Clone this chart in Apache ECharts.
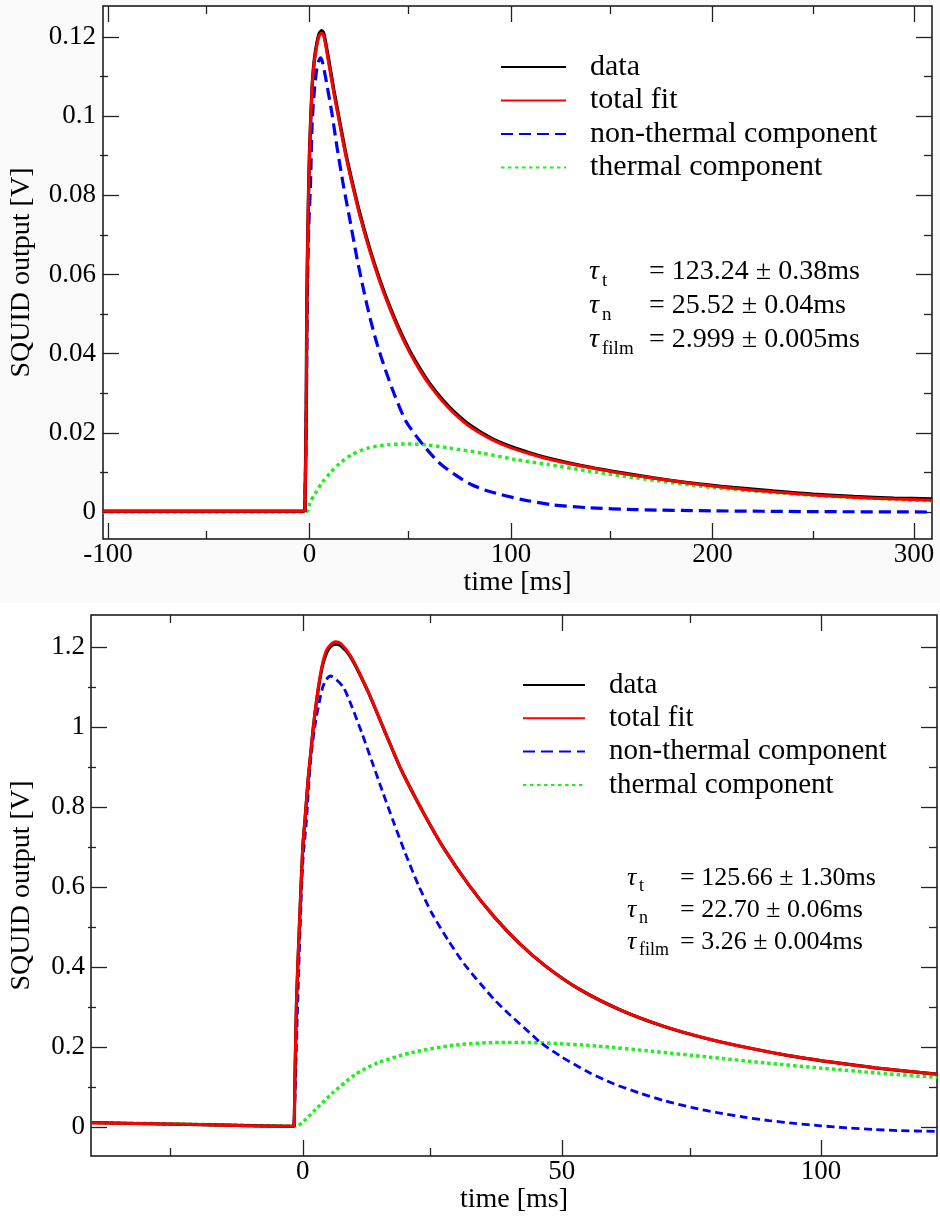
<!DOCTYPE html>
<html><head><meta charset="utf-8">
<script src="https://cdn.jsdelivr.net/npm/echarts@6/dist/echarts.min.js"></script>
<style>html,body{margin:0;padding:0;background:#fff}#c{width:940px;height:1221px}</style>
</head><body><div id="c"></div>
<script>
// ---------- names / ticks ----------
const seriesNames = ['data', 'total fit', 'non-thermal component', 'thermal component'];
const topTicksX = [-100, 0, 100, 200, 300];
const topMinorX = [-50, 50, 150, 250];
const topTicksY = [0, 0.02, 0.04, 0.06, 0.08, 0.1, 0.12];
const topMinorY = [0.01, 0.03, 0.05, 0.07, 0.09, 0.11];
const botTicksX = [0, 50, 100];
const botMinorX = [-25, 25, 75];
const botTicksY = [0, 0.2, 0.4, 0.6, 0.8, 1, 1.2];
const botMinorY = [0.1, 0.3, 0.5, 0.7, 0.9, 1.1];
const topFitText = ['= 123.24 \u00b1 0.38ms', '= 25.52 \u00b1 0.04ms', '= 2.999 \u00b1 0.005ms'];
const botFitText = ['= 125.66 \u00b1 1.30ms', '= 22.70 \u00b1 0.06ms', '= 3.26 \u00b1 0.004ms'];
const tauSubs = ['t', 'n', 'film'];

// ---------- top panel values [time ms, V] ----------
const topData = [[-102.5,0.0002],[-3,0.0002],[-2.3,0.0004],[-1.6,0.028],[-1.3,0.054],[-0.64,0.076],[0,0.0907],[1.3,0.1075],[2.3,0.1138],[3.5,0.118],[4.8,0.1208],[6,0.1216],[7,0.121],[8,0.1186],[10,0.1128],[12,0.1068],[15,0.0986],[18,0.0906],[21,0.0838],[25,0.0754],[30,0.0663],[35,0.0585],[40,0.0517],[45,0.0457],[50,0.0405],[55,0.0361],[60,0.0322],[66,0.0284],[72,0.0252],[80,0.0218],[90,0.0187],[100,0.0165],[110,0.0148],[120,0.0134],[135,0.0117],[150,0.0103],[170,0.0087],[190,0.0073],[210,0.0062],[230,0.0053],[250,0.0045],[270,0.0039],[290,0.0035],[308.9,0.0033]];
const topFit = [[-102.5,0.0002],[-3,0.0002],[-2.3,0.0004],[-1.6,0.028],[-1.3,0.054],[-0.64,0.076],[0,0.0907],[1.3,0.1075],[2.3,0.1135],[3.5,0.1175],[4.8,0.1203],[6,0.121],[7,0.1203],[8,0.118],[10,0.112],[12,0.106],[15,0.098],[18,0.090],[21,0.0832],[25,0.0748],[30,0.0658],[35,0.058],[40,0.0512],[45,0.0452],[50,0.040],[55,0.0356],[60,0.0318],[66,0.028],[72,0.0248],[80,0.0214],[90,0.0184],[100,0.0162],[110,0.0146],[120,0.0132],[135,0.0116],[150,0.0102],[170,0.0086],[190,0.0072],[210,0.0060],[230,0.0051],[250,0.0043],[270,0.0037],[290,0.0033],[308.9,0.0030]];
const topNonThermal = [[-2.3,0],[-1.6,0.024],[-1.2,0.05],[-0.5,0.07],[0.5,0.083],[1.3,0.098],[2.5,0.107],[3.5,0.1115],[4.5,0.1138],[5.5,0.1147],[6.5,0.1135],[7.9,0.110],[9.5,0.1055],[11.2,0.1005],[13.7,0.092],[17,0.082],[19.8,0.0745],[23.6,0.064],[26.9,0.056],[30.2,0.0487],[33.5,0.0425],[37.6,0.036],[42.5,0.0292],[48,0.0228],[56,0.0172],[64,0.0126],[72,0.0095],[80,0.0070],[88.5,0.0053],[105,0.0032],[121,0.0018],[138,0.0011],[162,0.0006],[200,0.0003],[250,0.0001],[308.9,0]];
const topThermal = [[-102.5,0],[-2.3,0],[-0.5,0.0005],[0.2,0.0023],[3,0.0048],[6.2,0.0074],[10.3,0.0099],[15.3,0.0124],[21,0.0145],[29.4,0.0162],[39.3,0.017],[49,0.0172],[59,0.0169],[68.8,0.0162],[85.3,0.0149],[101.8,0.0133],[118.3,0.012],[137.8,0.0104],[162.4,0.0086],[200,0.0062],[250,0.0042],[308.9,0.0028]];

// ---------- bottom panel values [time ms, V] ----------
const botData = [[-40.87,0.0107],[-20,0.006],[-2,0.0018],[-1.7,0.0025],[-1.5,0.13],[-1.2,0.32],[-0.6,0.52],[0,0.70],[0.5,0.78],[1,0.865],[1.5,0.93],[2,0.995],[2.5,1.05],[3,1.095],[3.75,1.15],[4.5,1.182],[5.3,1.2],[6.3,1.207],[7.3,1.204],[9.2,1.176],[12.5,1.091],[15.7,0.993],[19,0.893],[23.1,0.79],[27.2,0.697],[32.1,0.604],[36.9,0.526],[41.8,0.459],[46.7,0.404],[53.3,0.345],[61.4,0.292],[69.6,0.252],[77.7,0.222],[85.9,0.198],[94,0.178],[102.2,0.162],[110.4,0.148],[122.4,0.132]];
const botFit = [[-40.87,0.0107],[-20,0.006],[-2,0.0018],[-1.7,0.0025],[-1.5,0.13],[-1.2,0.32],[-0.6,0.52],[0,0.70],[0.5,0.78],[1,0.865],[1.5,0.93],[2,0.995],[2.5,1.05],[3,1.1],[3.75,1.155],[4.5,1.19],[5.3,1.205],[6.3,1.213],[7.3,1.209],[9.2,1.178],[12.5,1.092],[15.7,0.993],[19,0.893],[23.1,0.79],[27.2,0.697],[32.1,0.604],[36.9,0.526],[41.8,0.459],[46.7,0.404],[53.3,0.345],[61.4,0.292],[69.6,0.252],[77.7,0.222],[85.9,0.198],[94,0.178],[102.2,0.162],[110.4,0.148],[122.4,0.132]];
const botNonThermal = [[-1.7,0],[-1.4,0.12],[-1,0.3],[-0.5,0.5],[0,0.66],[0.7,0.765],[1.5,0.915],[2.5,1.015],[3.75,1.095],[4.5,1.118],[5.35,1.1275],[6.5,1.118],[7.9,1.098],[9.5,1.05],[11.4,0.985],[13.4,0.912],[15.3,0.842],[17.5,0.763],[19.8,0.684],[22.3,0.605],[24.9,0.535],[28.1,0.466],[31.3,0.405],[34.5,0.355],[37,0.318],[40,0.28],[43,0.245],[46,0.21],[50,0.175],[55,0.138],[60,0.108],[65,0.085],[70,0.065],[75,0.049],[80,0.036],[85,0.025],[90,0.016],[95,0.009],[100,0.003],[105,-0.002],[110,-0.006],[115,-0.009],[122.4,-0.011]];
const botThermal = [[-40.87,0.011],[-20,0.0065],[-2,0.002],[-1,0.003],[2.5,0.044],[5.75,0.085],[10.1,0.131],[14.4,0.16],[21,0.186],[29.6,0.205],[38.3,0.2115],[45.9,0.2105],[56.8,0.2025],[67.6,0.189],[78.5,0.1745],[89.4,0.16],[100.2,0.147],[111,0.135],[122.4,0.124]];

// ---------- styling ----------
const FONT = "'Liberation Serif','Times New Roman',serif";
const tickStyle = { color: '#222', width: 1.3 };

function makeAxis(gridIndex, position, min, max, tickValues, tickLen, labelValues, labelMargin, name, nameGap) {
  const ax = {
    type: 'value', gridIndex: gridIndex, position: position, min: min, max: max,
    axisLine: { show: false, onZero: false }, splitLine: { show: false }, minorTick: { show: false },
    axisTick: { show: true, inside: true, length: tickLen, customValues: tickValues, lineStyle: tickStyle },
    axisLabel: labelValues ? { show: true, customValues: labelValues, margin: labelMargin, color: '#000',
      fontFamily: FONT, fontSize: 27, formatter: function (v) { return String(v); } } : { show: false },
    axisPointer: { show: false }
  };
  if (name) {
    ax.name = name; ax.nameLocation = 'middle'; ax.nameGap = nameGap;
    ax.nameTextStyle = { color: '#000', fontFamily: FONT, fontSize: 28 };
  }
  return ax;
}

const TX = [-102.47, 308.9], TY = [-0.00682, 0.12783];
const BX = [-40.87, 122.4], BY = [-0.0725, 1.28];

const xAxes = [
  makeAxis(0, 'bottom', TX[0], TX[1], topTicksX, 16, topTicksX, 2, 'time [ms]', 28),
  makeAxis(0, 'top', TX[0], TX[1], topTicksX, 16, null),
  makeAxis(1, 'bottom', TX[0], TX[1], topMinorX, 8, null),
  makeAxis(1, 'top', TX[0], TX[1], topMinorX, 8, null),
  makeAxis(2, 'bottom', BX[0], BX[1], botTicksX, 16, botTicksX, 2, 'time [ms]', 26),
  makeAxis(2, 'top', BX[0], BX[1], botTicksX, 16, null),
  makeAxis(3, 'bottom', BX[0], BX[1], botMinorX, 8, null),
  makeAxis(3, 'top', BX[0], BX[1], botMinorX, 8, null)
];
const yAxes = [
  makeAxis(0, 'left', TY[0], TY[1], topTicksY, 16, topTicksY, 7, 'SQUID output [V]', 67),
  makeAxis(0, 'right', TY[0], TY[1], topTicksY, 16, null),
  makeAxis(1, 'left', TY[0], TY[1], topMinorY, 8, null),
  makeAxis(1, 'right', TY[0], TY[1], topMinorY, 8, null),
  makeAxis(2, 'left', BY[0], BY[1], botTicksY, 16, botTicksY, 6, 'SQUID output [V]', 55),
  makeAxis(2, 'right', BY[0], BY[1], botTicksY, 16, null),
  makeAxis(3, 'left', BY[0], BY[1], botMinorY, 8, null),
  makeAxis(3, 'right', BY[0], BY[1], botMinorY, 8, null)
];

function line(name, data, xi, yi, color, width, dash, z) {
  return {
    type: 'line', name: name, data: data, xAxisIndex: xi, yAxisIndex: yi,
    symbol: 'none', showSymbol: false, smooth: 0.25, silent: true, z: z,
    lineStyle: { color: color, width: width, type: dash || 'solid', cap: 'butt' },
    itemStyle: { color: color }
  };
}

const series = [
  line(seriesNames[3], topThermal, 0, 0, '#22ee22', 3.5, [3.5, 3.5], 2),
  line(seriesNames[2], topNonThermal, 0, 0, '#0000ff', 3.2, [12, 6], 3),
  line(seriesNames[0], topData, 0, 0, '#000000', 3.4, null, 4),
  line(seriesNames[1], topFit, 0, 0, '#ff0000', 3, null, 5),
  line(seriesNames[3], botThermal, 4, 4, '#22ee22', 3.5, [3.5, 3], 2),
  line(seriesNames[2], botNonThermal, 4, 4, '#0000ff', 2.8, [8, 4.5], 3),
  line(seriesNames[0], botData, 4, 4, '#000000', 3.2, null, 4),
  line(seriesNames[1], botFit, 4, 4, '#ff0000', 3, null, 5)
];

function legendAt(left, top, fontSize, width, gap) {
  return {
    data: seriesNames, orient: 'vertical', left: left, top: top, selectedMode: false,
    itemWidth: width, itemHeight: 14, itemGap: gap, padding: 0,
    itemStyle: { color: 'transparent', borderColor: 'transparent', borderWidth: 0 },
    textStyle: { color: '#000', fontFamily: FONT, fontSize: fontSize, lineHeight: 30, padding: [0, 0, 0, 19] }
  };
}

function tauBlock(x0, eqX, ys, texts, fs, subFs, subDy, subDx) {
  const els = [];
  ys.forEach(function (y, i) {
    els.push({ type: 'text', x: x0, y: y, silent: true,
      style: { text: '\u03c4', font: 'italic ' + fs + 'px ' + FONT, fill: '#000', align: 'left', verticalAlign: 'middle' } });
    els.push({ type: 'text', x: x0 + subDx, y: y + subDy, silent: true,
      style: { text: tauSubs[i], font: subFs + 'px ' + FONT, fill: '#000', align: 'left', verticalAlign: 'middle' } });
    els.push({ type: 'text', x: eqX, y: y, silent: true,
      style: { text: texts[i], font: fs + 'px ' + FONT, fill: '#000', align: 'left', verticalAlign: 'middle' } });
  });
  return els;
}

const graphics = [
  { type: 'rect', z: -100, silent: true, shape: { x: 0, y: 0, width: 940, height: 603 }, style: { fill: '#fafafa' } }
].concat(
  tauBlock(589, 649, [272, 306, 340], topFitText, 28, 19, 9, 13),
  tauBlock(627, 680, [878, 910, 942], botFitText, 26, 18, 8, 12)
);

const option = {
  animation: false,
  backgroundColor: '#ffffff',
  grid: [
    { left: 100, top: 6, width: 832, height: 533, show: true, borderColor: '#111', borderWidth: 1.5, backgroundColor: '#fff' },
    { left: 100, top: 6, width: 832, height: 533, show: false },
    { left: 88, top: 615, width: 849, height: 541, show: true, borderColor: '#111', borderWidth: 1.5, backgroundColor: '#fff' },
    { left: 88, top: 615, width: 849, height: 541, show: false }
  ],
  xAxis: xAxes,
  yAxis: yAxes,
  legend: [legendAt(500, 52, 30, 65, 3.5), legendAt(522, 670, 29, 62, 3.3)],
  graphic: graphics,
  series: series
};

const chart = echarts.init(document.getElementById('c'), null, { renderer: 'canvas' });
chart.setOption(option);
</script>
</body></html>
